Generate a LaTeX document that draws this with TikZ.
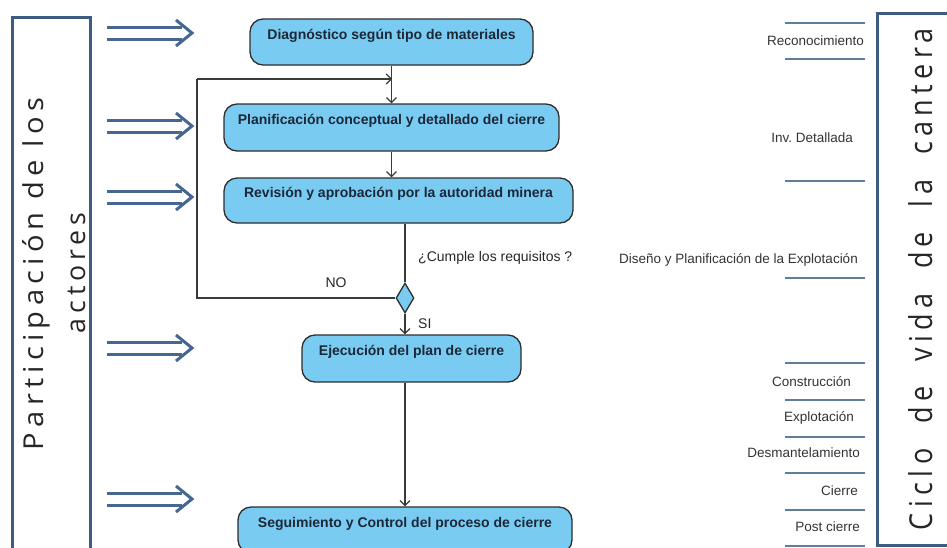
\documentclass[tikz,border=0pt]{standalone}
\usepackage{fontspec}
\usepackage{graphicx}
\setmainfont{Liberation Sans}
\newfontfamily\bigfont[LetterSpace=18]{Open Sans}
\newfontfamily\bigfontw[LetterSpace=20,WordSpace=2]{Open Sans}
\usetikzlibrary{arrows.meta,shapes.geometric}
\definecolor{frameblue}{HTML}{3E5C82}
\definecolor{arrowblue}{HTML}{46678F}
\definecolor{sepblue}{HTML}{5F7E9C}
\definecolor{boxfill}{HTML}{7ACBF2}
\definecolor{boxline}{HTML}{2E2E2E}
\definecolor{boxtext}{HTML}{1B2838}
\definecolor{connline}{HTML}{3A3A3A}
\begin{document}
\begin{tikzpicture}[x=1pt,y=-1pt,
  frame/.style={draw=frameblue,line width=3pt},
  dblarrow/.style={draw=arrowblue,line width=3pt},
  sepline/.style={draw=sepblue,line width=1.3pt},
  actbox/.style={draw=boxline,fill=boxfill,line width=1.3pt,rounded corners=13pt,
     inner sep=0pt,text=boxtext,font=\fontsize{14}{16}\selectfont\bfseries,
     text height=10pt,text depth=16pt},
  decision/.style={diamond,draw=boxline,fill=boxfill,line width=1.3pt,inner sep=0pt,
     minimum width=18pt,minimum height=30pt,aspect=0.6},
  conn/.style={draw=connline,line width=1.2pt},
  arr/.style={conn,-{Straight Barb[length=5pt,width=10pt]}},
  lbl/.style={font=\fontsize{14}{16}\selectfont,text=black!85,inner sep=0pt},
  phase/.style={font=\fontsize{13.5}{15}\selectfont,text=black!80,inner sep=0pt,anchor=east},
  big/.style={text=black!85,rotate=90,anchor=base,inner sep=0pt}
]
\useasboundingbox (0,0) rectangle (947,547);

% frames
\draw[frame] (12,17) rectangle (90,570);
\draw[frame] (877,13) rectangle (960,545);
\node[big] (partA) at (43,274) {\resizebox{352pt}{21pt}{\fontsize{28}{30}\bigfont Participación de los}};
\node[big] (partB) at (85,273) {\resizebox{120pt}{!}{\fontsize{28}{30}\bigfont actores}};
\node[big] (ciclo) at (932,279) {\resizebox{502pt}{24pt}{\fontsize{28}{30}\bigfontw Ciclo de vida de la cantera}};

% double arrows
\foreach \yy/\nm in {33/a1,126/a2,197/a3,348/a4,499/a5}{
  \coordinate (\nm s) at (107,\yy);
  \coordinate (\nm t) at (192,\yy);
  \draw[dblarrow] ([yshift=-6pt]\nm s) -- ([xshift=-10pt,yshift=-6pt]\nm t);
  \draw[dblarrow] ([yshift=6pt]\nm s) -- ([xshift=-10pt,yshift=6pt]\nm t);
  \draw[dblarrow,line join=miter] ([xshift=-16pt,yshift=-13pt]\nm t) -- (\nm t) -- ([xshift=-16pt,yshift=13pt]\nm t);
}

% flow boxes
\node[actbox,minimum width=283pt,minimum height=46pt] (diag) at (391.5,42) {Diagnóstico según tipo de materiales};
\node[actbox,minimum width=335pt,minimum height=47pt] (plan) at (391.5,127.5) {Planificación conceptual y detallado del cierre};
\node[actbox,minimum width=349pt,minimum height=45pt] (rev) at (398.5,200.5) {Revisión y aprobación por la autoridad minera};
\node[decision] (dec) at (405,298) {};
\node[actbox,minimum width=219pt,minimum height=47pt] (ejec) at (411.5,358.5) {Ejecución del plan de cierre};
\node[actbox,minimum width=334pt,minimum height=46pt] (seg) at (405,530) {Seguimiento y Control del proceso de cierre};

\coordinate (loopc) at (197,79);
\coordinate (join) at (392,79);

\draw[arr] (diag.south) -- (plan.north);
\draw[arr] (plan.south) -- (plan.south |- rev.north);
\draw[conn] (rev.south -| dec.north) -- (dec.north);
\draw[arr] (dec.south) -- (dec.south |- ejec.north);
\draw[arr] (ejec.south -| dec.south) -- (seg.north -| dec.south);
\draw[conn] (dec.west) -| (loopc);
\draw[arr] (loopc) -- (join);

\node[lbl,anchor=west] (cumple) at (418,258) {¿Cumple los requisitos ?};
\node[lbl] (no) at (336,283) {NO};
\node[lbl,anchor=west] (si) at (418,324) {SI};

% phases
\foreach \yy/\nm in {23/s1,59/s2,181/s3,278/s4,363/s5,400/s6,437/s7,473/s8,510/s9,546/s10}{
  \coordinate (\nm a) at (785,\yy);
  \coordinate (\nm b) at (865,\yy);
  \draw[sepline] (\nm a) -- (\nm b);
}
\node[phase] (p1) at (864,41) {Reconocimiento};
\node[phase] (p2) at (853,138) {Inv.\ Detallada};
\node[phase] (p3) at (858,260) {Diseño y Planificación de la Explotación};
\node[phase] (p4) at (851,382) {Construcción};
\node[phase] (p5) at (854,418) {Explotación};
\node[phase] (p6) at (860,453) {Desmantelamiento};
\node[phase] (p7) at (858,491) {Cierre};
\node[phase] (p8) at (860,527) {Post cierre};
\end{tikzpicture}
\end{document}
